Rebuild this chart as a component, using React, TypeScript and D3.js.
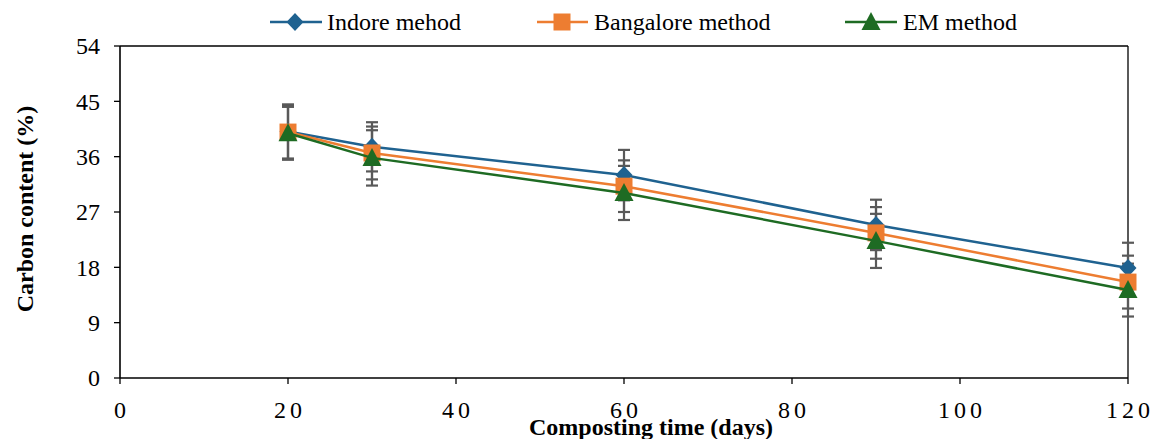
import React from "react";
import * as d3 from "d3";

const days = [20, 30, 60, 90, 120];
const indore = [40.1, 37.6, 33.0, 24.9, 17.9];
const bangalore = [40.0, 36.6, 31.2, 23.6, 15.6];
const em = [39.8, 35.8, 30.1, 22.3, 14.3];
const indoreErr = [4.4, 4.0, 4.1, 4.1, 4.1];
const bangaloreErr = [4.4, 4.3, 4.2, 4.2, 4.3];
const emErr = [4.3, 4.5, 4.4, 4.4, 4.3];
const xTicks = [0, 20, 40, 60, 80, 100, 120];
const yTicks = [0, 9, 18, 27, 36, 45, 54];

const W = 1153, H = 439;
const L = 120, R = 1128, T = 46, B = 378;
const FONT = "Liberation Serif, serif";
const FS = 24;

const series = [
  { name: "Indore mehod", vals: indore, err: indoreErr, color: "#1F6290", shape: "diamond" },
  { name: "Bangalore method", vals: bangalore, err: bangaloreErr, color: "#ED7D31", shape: "square" },
  { name: "EM method", vals: em, err: emErr, color: "#1E6B23", shape: "triangle" },
];

const symPath = (shape: string) => {
  const p = d3.path();
  if (shape === "diamond") {
    p.moveTo(0, -9); p.lineTo(8.5, 0); p.lineTo(0, 9); p.lineTo(-8.5, 0); p.closePath();
  } else if (shape === "square") {
    p.rect(-8.5, -8.5, 17, 17);
  } else {
    p.moveTo(0, -10); p.lineTo(9.5, 8); p.lineTo(-9.5, 8); p.closePath();
  }
  return p.toString();
};

const legendPos = [
  { x1: 270, x2: 322, m: 295, t: 327 },
  { x1: 537, x2: 588, m: 562, t: 594 },
  { x1: 845, x2: 897, m: 871, t: 903 },
];

export default function App() {
  const x = d3.scaleLinear().domain([0, 120]).range([L, R]);
  const y = d3.scaleLinear().domain([0, 54]).range([B, T]);
  const line = d3.line<number>().x((_, i) => x(days[i])).y((v) => y(v));

  return (
    <svg width={W} height={H} style={{ position: "absolute", left: 0, top: 0, background: "#fff" }}>
      <rect x={0} y={0} width={W} height={H} fill="#fff" />
      <line x1={L} x2={R} y1={T} y2={T} stroke="#000" strokeWidth={1.3} />
      <line x1={R} x2={R} y1={T} y2={B} stroke="#000" strokeWidth={1.3} />
      <line x1={L} x2={R} y1={B} y2={B} stroke="#000" strokeWidth={1.6} />
      <line x1={L} x2={L} y1={T} y2={B} stroke="#000" strokeWidth={1.6} />
      {yTicks.map((t) => (
        <g key={"y" + t}>
          <line x1={L - 6} x2={L} y1={y(t)} y2={y(t)} stroke="#000" strokeWidth={1.3} />
          <text x={L - 20} y={y(t)} dy="0.35em" textAnchor="end" fontFamily={FONT} fontSize={FS}>
            {t}
          </text>
        </g>
      ))}
      {xTicks.map((t) => (
        <g key={"x" + t}>
          <line x1={x(t)} x2={x(t)} y1={B} y2={B + 6} stroke="#000" strokeWidth={1.3} />
          <text x={x(t) + 2} y={418} textAnchor="middle" fontFamily={FONT} fontSize={FS} letterSpacing={4}>
            {t}
          </text>
        </g>
      ))}
      <text x={651} y={435} textAnchor="middle" fontFamily={FONT} fontSize={FS} fontWeight="bold">
        Composting time (days)
      </text>
      <text
        transform={`translate(33,${209}) rotate(-90)`}
        textAnchor="middle"
        fontFamily={FONT}
        fontSize={FS}
        fontWeight="bold"
      >
        Carbon content (%)
      </text>
      {series.map((s) => (
        <g key={"e" + s.name} stroke="#595959" strokeWidth={2.2}>
          {s.vals.map((v, i) => (
            <g key={i}>
              <line x1={x(days[i])} x2={x(days[i])} y1={y(v + s.err[i])} y2={y(v - s.err[i])} />
              <line x1={x(days[i]) - 6} x2={x(days[i]) + 6} y1={y(v + s.err[i])} y2={y(v + s.err[i])} />
              <line x1={x(days[i]) - 6} x2={x(days[i]) + 6} y1={y(v - s.err[i])} y2={y(v - s.err[i])} />
            </g>
          ))}
        </g>
      ))}
      {series.map((s) => (
        <g key={"s" + s.name}>
          <path d={line(s.vals)!} fill="none" stroke={s.color} strokeWidth={2.5} />
          {s.vals.map((v, i) => (
            <path key={i} d={symPath(s.shape)} transform={`translate(${x(days[i])},${y(v)})`} fill={s.color} />
          ))}
        </g>
      ))}
      {series.map((s, i) => (
        <g key={"l" + s.name}>
          <line x1={legendPos[i].x1} x2={legendPos[i].x2} y1={22} y2={22} stroke={s.color} strokeWidth={2.5} />
          <path d={symPath(s.shape)} transform={`translate(${legendPos[i].m},22)`} fill={s.color} />
          <text x={legendPos[i].t} y={22} dy="0.35em" fontFamily={FONT} fontSize={FS}>
            {s.name}
          </text>
        </g>
      ))}
    </svg>
  );
}
